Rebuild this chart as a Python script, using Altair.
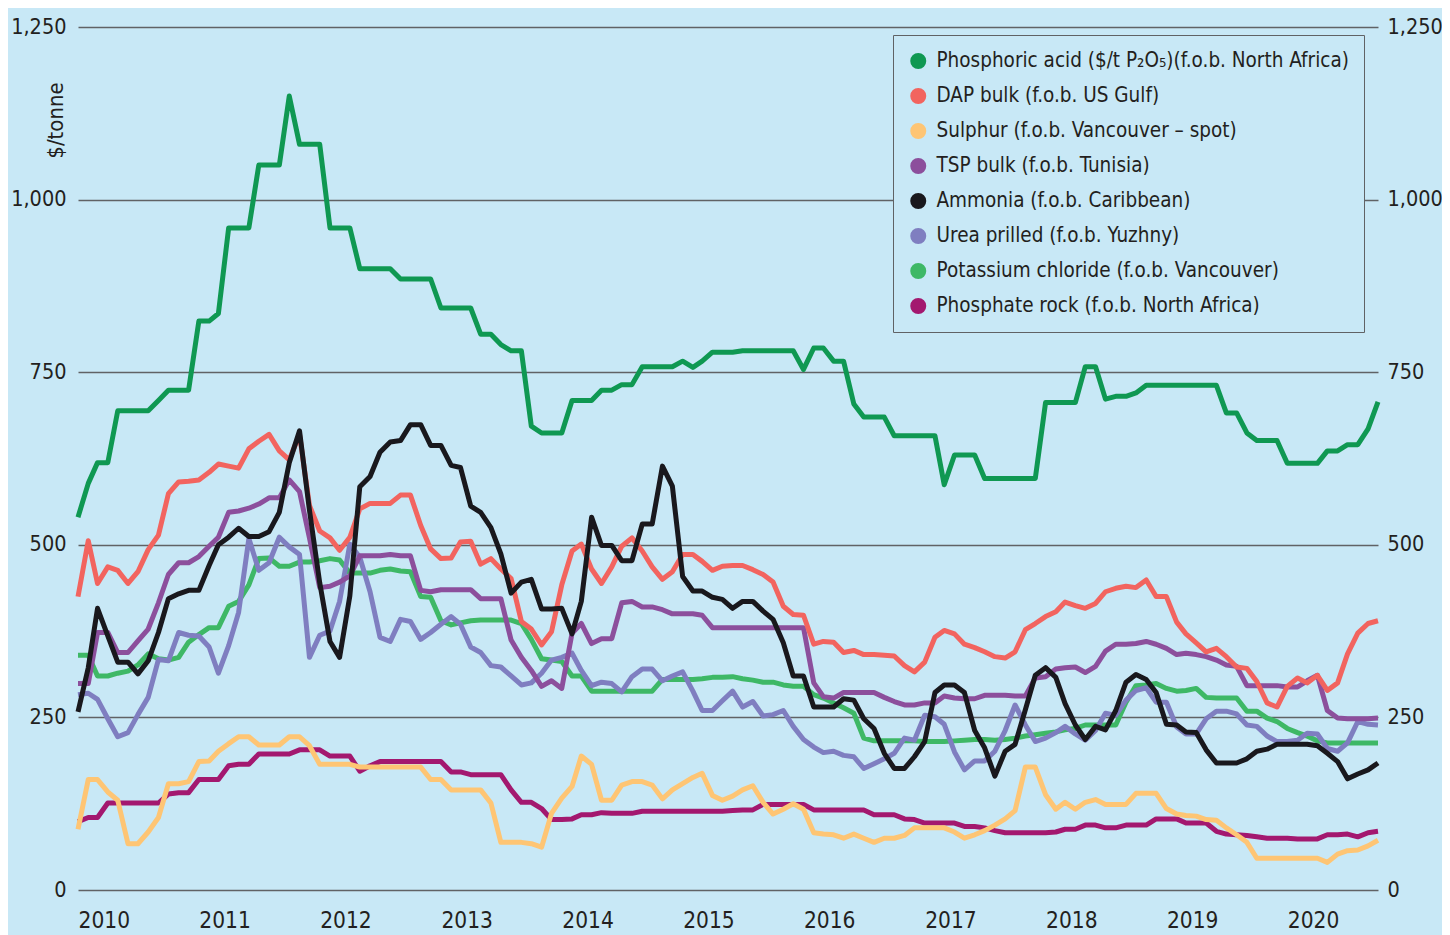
import altair as alt
import pandas as pd

# ---- data (monthly, Jan 2010 - Oct 2020) ----
months = pd.date_range("2010-01-01", periods=130, freq="MS").strftime("%Y-%m-%d").tolist()

phosphoric_acid = [540, 589, 619, 619, 694, 694, 694, 694, 709, 724,
                   724, 724, 824, 824, 835, 959, 959, 959, 1050, 1050,
                   1050, 1150, 1080, 1080, 1080, 959, 959, 959, 900, 900,
                   900, 900, 885, 885, 885, 885, 843, 843, 843, 843,
                   805, 805, 790, 781, 781, 672, 662, 662, 662, 709,
                   709, 709, 724, 724, 732, 732, 758, 758, 758, 758,
                   766, 757, 766, 779, 779, 779, 781, 781, 781, 781,
                   781, 781, 754, 785, 785, 766, 766, 704, 685, 685,
                   685, 658, 658, 658, 658, 658, 587, 630, 630, 630,
                   596, 596, 596, 596, 596, 596, 706, 706, 706, 706,
                   758, 758, 711, 715, 715, 720, 731, 731, 731, 731,
                   731, 731, 731, 731, 691, 691, 662, 651, 651, 651,
                   618, 618, 618, 618, 636, 636, 645, 645, 668, 707]
dap_bulk = [425, 506, 444, 468, 463, 444, 461, 493, 514, 574,
            591, 592, 594, 605, 617, 614, 611, 639, 650, 660,
            636, 623, 660, 557, 520, 510, 492, 511, 552, 560,
            560, 560, 572, 572, 528, 494, 480, 481, 504, 505,
            472, 480, 465, 451, 389, 378, 355, 374, 442, 491,
            501, 465, 444, 468, 498, 510, 491, 468, 450, 461,
            486, 486, 476, 463, 469, 470, 470, 464, 457, 446,
            411, 399, 398, 356, 360, 359, 344, 347, 341, 341,
            340, 339, 325, 316, 330, 366, 376, 371, 356, 351,
            345, 338, 336, 345, 377, 386, 396, 403, 417, 412,
            408, 415, 432, 437, 440, 438, 449, 425, 425, 388,
            371, 358, 345, 350, 338, 323, 321, 302, 271, 265,
            295, 307, 300, 311, 289, 300, 342, 372, 386, 390]
sulphur = [88, 160, 160, 142, 130, 67, 67, 84, 105, 154,
           154, 157, 186, 187, 201, 212, 222, 222, 210, 210,
           210, 222, 222, 209, 182, 182, 182, 182, 178, 178,
           178, 178, 178, 178, 178, 160, 160, 145, 145, 145,
           145, 126, 69, 69, 69, 67, 62, 111, 133, 150,
           194, 182, 130, 130, 152, 157, 157, 152, 132, 145,
           154, 163, 169, 137, 130, 136, 145, 151, 127, 110,
           117, 125, 117, 83, 81, 80, 75, 81, 75, 69,
           75, 75, 79, 90, 90, 90, 90, 84, 75, 80,
           86, 94, 103, 115, 178, 178, 138, 117, 127, 117,
           127, 131, 124, 124, 124, 140, 140, 140, 118, 110,
           108, 107, 102, 101, 90, 80, 69, 46, 46, 46,
           46, 46, 46, 46, 40, 52, 57, 58, 64, 72]
tsp_bulk = [299, 299, 373, 373, 344, 344, 361, 378, 416, 457,
            474, 474, 483, 498, 511, 547, 549, 553, 559, 568,
            568, 594, 577, 510, 438, 440, 446, 455, 484, 484,
            484, 486, 484, 484, 434, 432, 435, 435, 435, 435,
            422, 422, 422, 362, 337, 318, 295, 303, 292, 372,
            386, 357, 364, 364, 416, 418, 410, 410, 406, 400,
            400, 400, 398, 380, 380, 380, 380, 380, 380, 380,
            380, 380, 380, 300, 280, 278, 286, 286, 286, 286,
            279, 273, 268, 268, 271, 271, 281, 278, 277, 277,
            282, 282, 282, 281, 281, 307, 309, 320, 322, 323,
            315, 324, 346, 356, 356, 357, 360, 356, 350, 341,
            343, 341, 338, 333, 326, 324, 296, 296, 296, 296,
            294, 294, 303, 311, 260, 249, 248, 248, 248, 249]
ammonia = [258, 322, 408, 368, 330, 330, 313, 332, 373, 422,
           429, 434, 434, 470, 500, 511, 524, 512, 512, 519,
           547, 619, 665, 550, 445, 360, 337, 426, 584, 599,
           634, 649, 651, 674, 674, 644, 644, 615, 612, 556,
           547, 525, 487, 430, 446, 450, 407, 407, 408, 371,
           418, 540, 499, 499, 477, 477, 530, 530, 614, 585,
           454, 433, 433, 424, 421, 408, 418, 418, 404, 392,
           358, 310, 310, 265, 265, 265, 277, 275, 248, 234,
           198, 176, 176, 193, 215, 286, 297, 297, 286, 231,
           206, 165, 201, 211, 261, 311, 322, 308, 270, 239,
           218, 237, 232, 260, 301, 312, 305, 286, 240, 239,
           229, 228, 203, 184, 184, 184, 190, 201, 204, 211,
           211, 211, 211, 209, 198, 186, 161, 168, 174, 184]
urea_prilled = [283, 285, 276, 248, 222, 228, 254, 279, 334, 332,
                373, 369, 368, 352, 314, 354, 402, 509, 463, 474,
                511, 497, 486, 337, 369, 375, 418, 501, 482, 432,
                366, 360, 392, 389, 363, 373, 385, 396, 385, 352,
                344, 325, 323, 310, 297, 300, 314, 333, 337, 343,
                318, 296, 301, 299, 287, 309, 320, 320, 303, 310,
                316, 288, 260, 260, 274, 288, 265, 273, 252, 254,
                260, 237, 218, 207, 199, 201, 195, 193, 176, 183,
                190, 198, 220, 217, 253, 251, 240, 200, 174, 187,
                187, 201, 231, 268, 239, 215, 220, 228, 237, 226,
                217, 231, 256, 253, 275, 289, 293, 272, 272, 236,
                226, 226, 248, 259, 259, 255, 239, 237, 223, 215,
                215, 217, 227, 226, 205, 201, 213, 244, 240, 239]
potassium_chloride = [340, 340, 310, 310, 314, 317, 326, 342, 335, 333,
                      337, 359, 370, 380, 380, 411, 418, 442, 480, 481,
                      469, 469, 475, 475, 477, 480, 478, 459, 459, 459,
                      463, 465, 462, 461, 425, 424, 390, 384, 387, 390,
                      391, 391, 391, 391, 386, 363, 335, 333, 331, 310,
                      310, 288, 288, 288, 288, 288, 288, 288, 305, 305,
                      305, 305, 306, 308, 308, 309, 306, 304, 301, 301,
                      297, 295, 295, 283, 278, 271, 264, 256, 220, 216,
                      216, 216, 216, 216, 215, 215, 215, 216, 217, 218,
                      218, 217, 218, 220, 223, 225, 227, 229, 232, 234,
                      239, 239, 239, 239, 272, 296, 297, 299, 292, 288,
                      289, 292, 279, 278, 278, 278, 259, 259, 249, 244,
                      234, 228, 223, 216, 213, 213, 213, 213, 213, 213]
phosphate_rock = [99, 105, 105, 126, 126, 126, 126, 126, 126, 139,
                  141, 141, 160, 160, 160, 180, 182, 182, 197, 197,
                  197, 197, 203, 203, 203, 194, 194, 194, 172, 180,
                  186, 186, 186, 186, 186, 186, 186, 171, 171, 167,
                  167, 167, 167, 145, 127, 127, 118, 102, 102, 103,
                  109, 109, 112, 111, 111, 111, 114, 114, 114, 114,
                  114, 114, 114, 114, 114, 115, 116, 116, 124, 124,
                  124, 124, 124, 116, 116, 116, 116, 116, 116, 109,
                  109, 109, 103, 102, 97, 97, 97, 97, 92, 92,
                  90, 86, 83, 83, 83, 83, 83, 84, 88, 88,
                  94, 94, 90, 90, 94, 94, 94, 103, 103, 103,
                  97, 97, 97, 85, 81, 80, 79, 77, 75, 75,
                  75, 74, 74, 74, 80, 80, 81, 77, 83, 85]

series_names = [
    "Phosphoric acid ($/t P\u2082O\u2085)(f.o.b. North Africa)",
    "DAP bulk (f.o.b. US Gulf)",
    "Sulphur (f.o.b. Vancouver \u2013 spot)",
    "TSP bulk  (f.o.b. Tunisia)",
    "Ammonia (f.o.b. Caribbean)",
    "Urea prilled (f.o.b. Yuzhny)",
    "Potassium chloride (f.o.b. Vancouver)",
    "Phosphate rock (f.o.b. North Africa)",
]
series_values = [phosphoric_acid, dap_bulk, sulphur, tsp_bulk, ammonia,
                 urea_prilled, potassium_chloride, phosphate_rock]
series_colors = ["#0f9852", "#f2645f", "#fec574", "#8c4f9c", "#19181d",
                 "#7f7ec0", "#3eb866", "#a3186f"]
y_ticks = [0, 250, 500, 750, 1000, 1250]
year_ticks = list(range(2010, 2021))

for v in series_values:
    assert len(v) == len(months), len(v)

# drawing order (last drawn on top)
draw_order = [7, 2, 6, 5, 3, 1, 0, 4]
rows = []
for k, i in enumerate(draw_order):
    for d, val in zip(months, series_values[i]):
        rows.append({"date": d, "value": val, "series": series_names[i], "z": k})
df = pd.DataFrame(rows)

BG = "#c8e8f6"
TXT = "#231f20"
GRID = "#606265"
FONT = "Liberation Sans Narrow, DejaVu Sans Condensed, Liberation Sans, sans-serif"

x_enc = alt.X(
    "date:T",
    title=None,
    scale=alt.Scale(type="utc", domain=[alt.DateTime(year=2010, month=1, date=1, utc=True),
                                        alt.DateTime(year=2020, month=10, date=1, utc=True)]),
    axis=alt.Axis(values=[alt.DateTime(year=y, month=1, date=1, utc=True) for y in year_ticks],
                  format="%Y", formatType="utc", labelAlign="left", labelBaseline="top",
                  labelPadding=19, ticks=False, tickSize=0, domain=False, grid=False,
                  labelFontSize=22.5, labelColor=TXT, labelFont=FONT,
                  labelOverlap=False, labelFlush=False),
)

y_scale = alt.Scale(domain=[0, 1250], nice=False, zero=True)

lines = alt.Chart(df).mark_line(strokeWidth=5, strokeJoin="round").encode(
    x=x_enc,
    y=alt.Y("value:Q", scale=y_scale,
            axis=alt.Axis(values=y_ticks, format=",.0f", labelFontSize=21.5, labelColor=TXT,
                          labelFont=FONT, labelPadding=12, ticks=False, domain=False,
                          grid=True, gridColor=GRID, gridWidth=1.5,
                          title="$/tonne", titleFont=FONT, titleFontSize=22,
                          titleFontWeight="normal", titleColor=TXT, titleAngle=270,
                          titleX=-23, titleY=93, titleAlign="center",
                          titleBaseline="middle")),
    color=alt.Color("series:N",
                    scale=alt.Scale(domain=series_names, range=series_colors),
                    legend=alt.Legend(orient="none", legendX=815, legendY=8, title=None,
                                      direction="vertical",
                                      symbolType="circle", symbolSize=64,
                                      symbolStrokeWidth=8, symbolOpacity=1,
                                      labelFontSize=20.5, labelFont=FONT, labelColor=TXT,
                                      labelLimit=700, labelOffset=8, rowPadding=13,
                                      clipHeight=22, padding=15, strokeColor=GRID,
                                      fillColor=BG)),
    detail="z:O",
)

right = alt.Chart(df).mark_line(opacity=0).encode(
    x=x_enc,
    y=alt.Y("value:Q", scale=y_scale,
            axis=alt.Axis(orient="right", values=y_ticks, format=",.0f", labelFontSize=21.5,
                          labelColor=TXT, labelFont=FONT, labelPadding=9, ticks=False,
                          domain=False, grid=False, title=None)),
    detail="z:O",
)

chart = alt.layer(right, lines).resolve_scale(y="independent").properties(
    width=1300, height=863,
    autosize=alt.AutoSizeParams(type="none"),
    padding={"left": 70, "top": 19, "right": 64, "bottom": 45},
    background=BG,
).configure_view(strokeWidth=0, fill=BG)

chart.save("out.html", embed_options={"renderer": "svg", "actions": False})
